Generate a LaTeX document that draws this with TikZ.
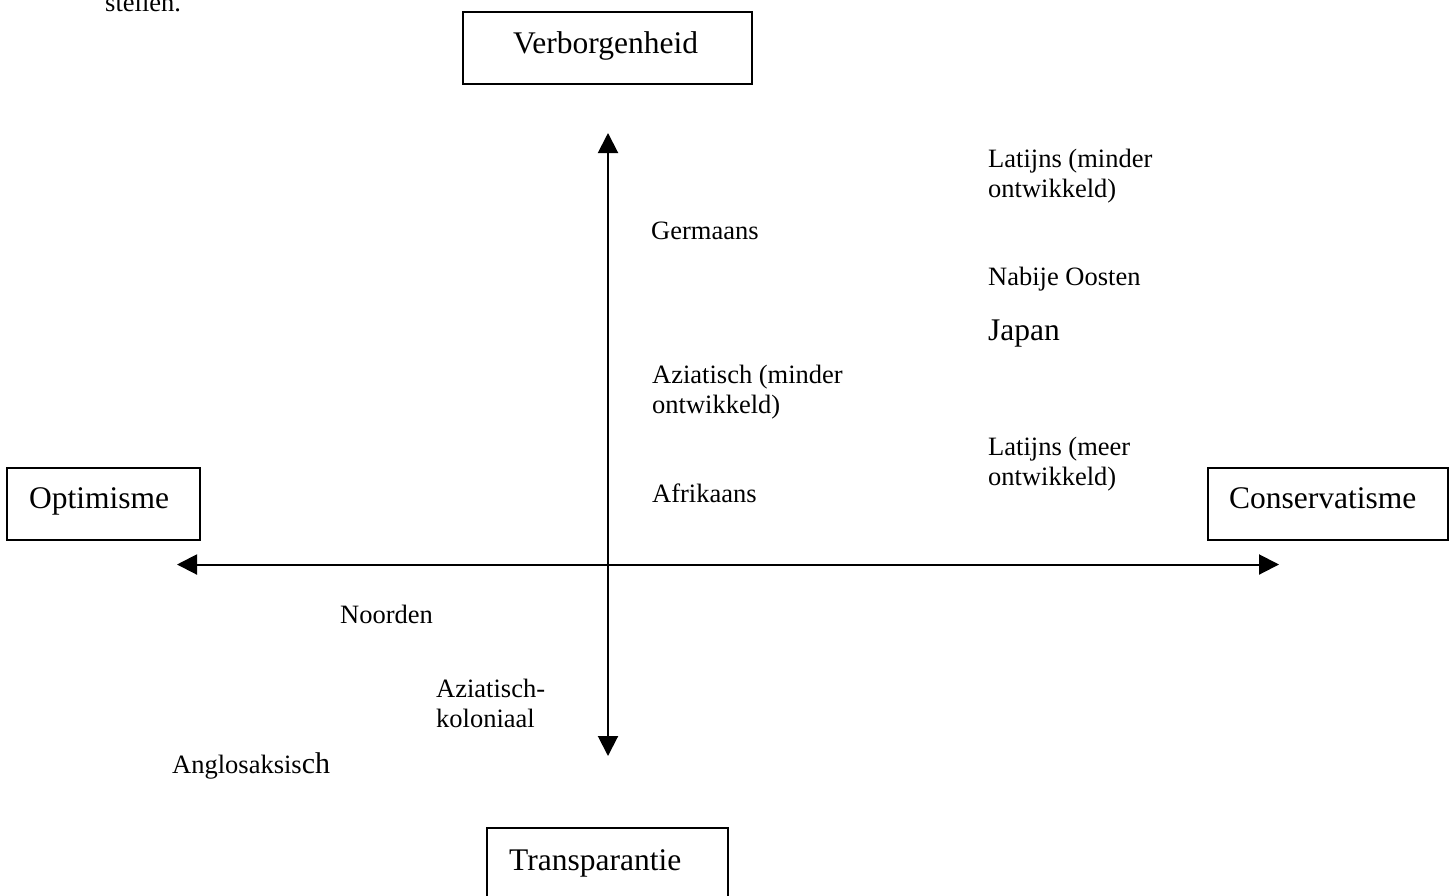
\documentclass[tikz,border=0pt]{standalone}
\usepackage{fontspec}
\setmainfont{Liberation Serif}
\usetikzlibrary{arrows.meta}

\tikzset{
  pole/.style={draw=black, line width=2pt, inner sep=0pt},
  polelabel/.style={anchor=base west, inner sep=0pt, font=\fontsize{31.5}{36}\selectfont},
  region/.style={anchor=base west, inner sep=0pt, font=\fontsize{26.5}{30}\selectfont},
  axis/.style={line width=2pt, {Triangle[length=20pt,width=20pt]}-{Triangle[length=20pt,width=20pt]}},
}
\newcommand{\twolines}[2]{\begin{tabular}[t]{@{}l@{}}#1\\#2\end{tabular}}

\begin{document}
\begin{tikzpicture}[x=1pt,y=-1pt]
  \useasboundingbox (0,0) rectangle (1453,895);

  % fragment of the preceding sentence
  \node[region] (prev) at (105,11) {stellen.};

  % the four poles
  \draw[pole] (463,12) rectangle (752,84);
  \node[polelabel] (verb) at (513,53) {Verborgenheid};
  \draw[pole] (7,468) rectangle (200,540);
  \node[polelabel] (opt) at (29,508) {Optimisme};
  \draw[pole] (1208,468) rectangle (1448,540);
  \node[polelabel] (cons) at (1229,508) {Conservatisme};
  \draw[pole] (487,900) -- (487,828) -- (728,828) -- (728,900);
  \node[polelabel] (trans) at (509,870) {Transparantie};

  % axes
  \coordinate (left)   at (177,564.5);
  \coordinate (right)  at (1279,564.5);
  \coordinate (top)    at (608,133);
  \coordinate (bottom) at (608,756);
  \draw[axis] (left) -- (right);
  \draw[axis] (top) -- (bottom);

  % cultural regions
  \node[region] (latmin) at (988,167) {\twolines{Latijns (minder}{ontwikkeld)}};
  \node[region] (germ)   at (651,239) {Germaans};
  \node[region] (nabij)  at (988,285) {Nabije Oosten};
  \node[polelabel] (jap) at (988,340) {Japan};
  \node[region] (azmin)  at (652,383) {\twolines{Aziatisch (minder}{ontwikkeld)}};
  \node[region] (latmeer) at (988,455) {\twolines{Latijns (meer}{ontwikkeld)}};
  \node[region] (afr)    at (652,502) {Afrikaans};
  \node[region] (noord)  at (340,623) {Noorden};
  \node[region] (azkol)  at (436,697) {\twolines{Aziatisch-}{koloniaal}};
  \node[region] (anglo)  at (172,773) {Anglosaksis{\fontsize{30}{34}\selectfont ch}};
\end{tikzpicture}
\end{document}
